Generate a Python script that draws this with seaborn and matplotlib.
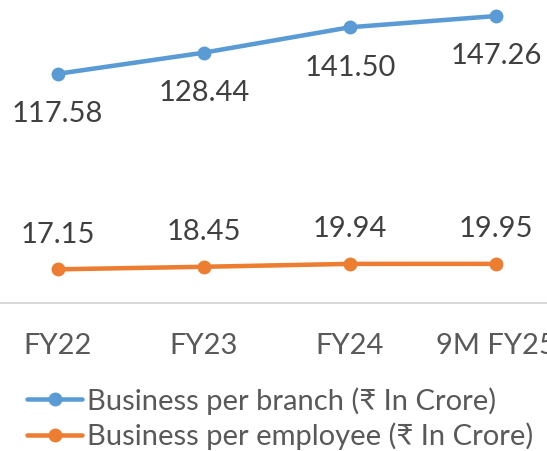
import matplotlib
matplotlib.use("Agg")
import matplotlib.pyplot as plt
import seaborn as sns
import pandas as pd
from matplotlib.lines import Line2D

periods = ["FY22", "FY23", "FY24", "9M FY25"]
per_branch = [117.58, 128.44, 141.50, 147.26]
per_employee = [17.15, 18.45, 19.94, 19.95]
series_names = ["Business per branch (₹ In Crore)", "Business per employee (₹ In Crore)"]
colors = ["#5B9BD5", "#ED7D31"]

sns.set_theme(style="white")
plt.rcParams['font.family'] = ['Lato', 'DejaVu Sans']
text_color = "#595959"
label_color = "#404040"
fs = 21

df = pd.DataFrame({
    "period": periods * 2,
    "value": per_branch + per_employee,
    "series": [series_names[0]] * 4 + [series_names[1]] * 4,
})

fig = plt.figure(figsize=(5.47, 4.51), dpi=100)
ax = fig.add_axes([0, 1 - 302.7 / 451, 1, 302.7 / 451])

sns.lineplot(data=df, x="period", y="value", hue="series", palette=colors,
             marker="o", markersize=10, markeredgewidth=0, linewidth=3.25,
             sort=False, ax=ax, legend=False)

ax.set_ylim(0, 155.5)
ax.set_xlim(-57.7 / 146.1, (547 - 57.7) / 146.1)
for s in ["top", "left", "right"]:
    ax.spines[s].set_visible(False)
ax.spines["bottom"].set_color("#D9D9D9")
ax.spines["bottom"].set_linewidth(1.5)
ax.set_yticks([])
ax.set_xlabel("")
ax.set_ylabel("")
ax.set_xticks(range(len(periods)))
ax.set_xticklabels(periods)
ax.tick_params(axis="x", length=0, pad=22, labelsize=fs, labelcolor=text_color)

for i, v in enumerate(per_branch):
    ax.annotate(f"{v:.2f}", (i, v), xytext=(0, -29), textcoords="offset points",
                ha="center", va="center", fontsize=fs, color=label_color)
for i, v in enumerate(per_employee):
    ax.annotate(f"{v:.2f}", (i, v), xytext=(0, 25), textcoords="offset points",
                ha="center", va="center", fontsize=fs, color=label_color)

handles = [Line2D([], [], color=c, lw=3.25, marker="o", markersize=10, markeredgewidth=0)
           for c in colors]
leg = fig.legend(handles, series_names, loc="upper left",
                 bbox_to_anchor=(27 / 547, 1 - 387 / 451),
                 frameon=False, fontsize=fs, handlelength=1.9, handletextpad=0.17,
                 labelspacing=0.27, borderaxespad=0, borderpad=0)
for t in leg.get_texts():
    t.set_color(text_color)

fig.savefig("out.png", dpi=100)
